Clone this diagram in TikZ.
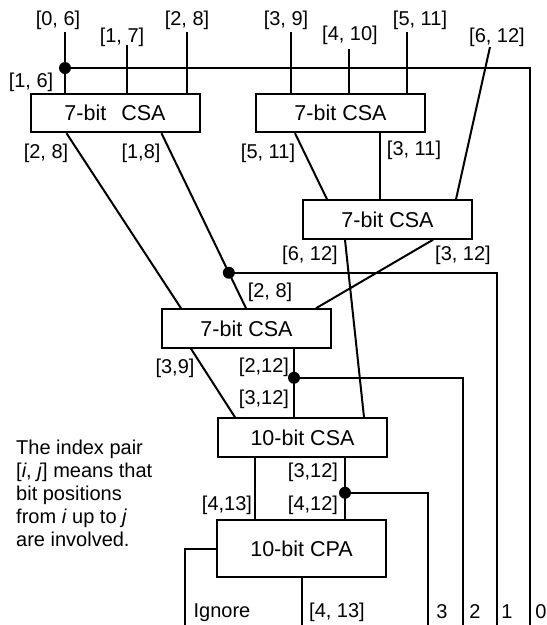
\documentclass[tikz,border=0pt]{standalone}
\usepackage{fontspec}
\setmainfont{Liberation Sans}
\usetikzlibrary{calc}
\begin{document}
\begin{tikzpicture}[x=1pt,y=-1pt,
  wire/.style={line width=2pt},
  unit/.style={draw, line width=2pt, minimum width=169pt, minimum height=38.5pt, inner sep=0pt, font=\fontsize{21.5}{24}\selectfont},
  lbl/.style={inner sep=0pt, font=\fontsize{20}{23}\selectfont},
  note/.style={inner sep=0pt, anchor=base west, font=\fontsize{20}{23}\selectfont},
  junc/.style={circle, fill, inner sep=0pt, minimum size=12pt},
]
\useasboundingbox (0,0) rectangle (547,625);

% boxes
\node[unit] (b1) at (115,113) {7-bit\hspace{0.7em}CSA};
\node[unit] (b2) at (340.5,113) {7-bit CSA};
\node[unit] (b3) at (387.5,219.5) {7-bit CSA};
\node[unit] (b4) at (246.5,328.5) {7-bit CSA};
\node[unit] (b5) at (302.5,437.5) {10-bit CSA};
\node[unit, minimum height=57pt] (b6) at (301.5,548.5) {10-bit CPA};

% input ends
\coordinate (i06) at (65,32);
\coordinate (i17) at (127,45);
\coordinate (i28) at (187,32);
\coordinate (i39) at (291,32);
\coordinate (i410) at (349,49);
\coordinate (i511) at (407,32);
\coordinate (i612) at (490,47);

% output ends
\coordinate (o0) at (530,625);
\coordinate (o1) at (497,625);
\coordinate (o2) at (463,625);
\coordinate (o3) at (428,625);
\coordinate (oign) at (185,625);
\coordinate (o413) at (301.5,625);

% junctions
\node[junc] (d1) at (65,68) {};

% top inputs
\draw[wire] (i06) -- (i06 |- b1.north);
\draw[wire] (i17) -- (i17 |- b1.north);
\draw[wire] (i28) -- (i28 |- b1.north);
\draw[wire] (i39) -- (i39 |- b2.north);
\draw[wire] (i410) -- (i410 |- b2.north);
\draw[wire] (i511) -- (i511 |- b2.north);
\draw[wire] (i612) -- ($(b3.north west)+(154,0)$);
\draw[wire] (d1.center) -| (o0);

% b1 -> b4
\coordinate (p18a) at ($(b1.south west)+(132,0)$);
\coordinate (p18b) at ($(b4.north west)+(85,0)$);
\node[junc] (d2) at ($(p18a)!0.797!(p18b)$) {};
\draw[wire] ($(b1.south west)+(37,0)$) -- ($(b4.north west)+(20,0)$);
\draw[wire] (p18a) -- (p18b);
\draw[wire] (d2.center) -| (o1);

% b2 -> b3
\draw[wire] ($(b2.south west)+(40,0)$) -- ($(b3.north west)+(25,0)$);
\draw[wire] ($(b2.south west)+(125,0)$) -- ($(b3.north west)+(78,0)$);

% b3 -> b5, b4
\draw[wire] ($(b3.south west)+(43,0)$) -- ($(b5.north west)+(147,0)$);
\draw[wire] ($(b3.south west)+(131,0)$) -- ($(b4.north west)+(155,0)$);

% b4 -> b5
\coordinate (p212) at ($(b4.south west)+(133,0)$);
\node[junc] (d3) at ($(p212)+(0,29)$) {};
\draw[wire] ($(b4.south west)+(30,0)$) -- ($(b5.north west)+(18,0)$);
\draw[wire] (p212) -- (p212 |- b5.north);
\draw[wire] (d3.center) -| (o2);

% b5 -> b6
\coordinate (p413) at ($(b5.south west)+(38,0)$);
\coordinate (p312) at ($(b5.south west)+(128,0)$);
\node[junc] (d4) at ($(p312)+(0,35)$) {};
\draw[wire] (p413) -- (p413 |- b6.north);
\draw[wire] (p312) -- (p312 |- b6.north);
\draw[wire] (d4.center) -| (o3);

% b6 outputs
\draw[wire] (b6.west) -| (oign);
\draw[wire] (b6.south) -- (o413);

% labels
\node[lbl] (l1) at (58,20) {[0, 6]};
\node[lbl] (l2) at (122,37) {[1, 7]};
\node[lbl] (l3) at (187,20) {[2, 8]};
\node[lbl] (l4) at (31,82) {[1, 6]};
\node[lbl] (l5) at (286,20) {[3, 9]};
\node[lbl] (l6) at (350,35) {[4, 10]};
\node[lbl] (l7) at (420,20) {[5, 11]};
\node[lbl] (l8) at (497,37) {[6, 12]};
\node[lbl] (l9) at (46,153) {[2, 8]};
\node[lbl] (l10) at (141,153) {[1,8]};
\node[lbl] (l11) at (268,153) {[5, 11]};
\node[lbl] (l12) at (414,150) {[3, 11]};
\node[lbl] (l13) at (310,255) {[6, 12]};
\node[lbl] (l14) at (463,255) {[3, 12]};
\node[lbl] (l15) at (270,292) {[2, 8]};
\node[lbl] (l16) at (175,368) {[3,9]};
\node[lbl] (l17) at (264,367) {[2,12]};
\node[lbl] (l18) at (264,399) {[3,12]};
\node[lbl] (l19) at (227,505) {[4,13]};
\node[lbl] (l20) at (313,472) {[3,12]};
\node[lbl] (l21) at (313,505) {[4,12]};
\node[lbl] (l22) at (222,613) {Ignore};
\node[lbl] (l23) at (337,612) {[4, 13]};
\node[lbl] (l24) at (442,612) {3};
\node[lbl] (l25) at (475,612) {2};
\node[lbl] (l26) at (507,612) {1};
\node[lbl] (l27) at (541,612) {0};

% note
\node[note] (n1) at (16,454) {The index pair};
\node[note] (n2) at (16,477) {[\textit{i}, \textit{j}] means that};
\node[note] (n3) at (16,500) {bit positions};
\node[note] (n4) at (16,523) {from \textit{i} up to \textit{j}};
\node[note] (n5) at (16,546) {are involved.};
\end{tikzpicture}
\end{document}
